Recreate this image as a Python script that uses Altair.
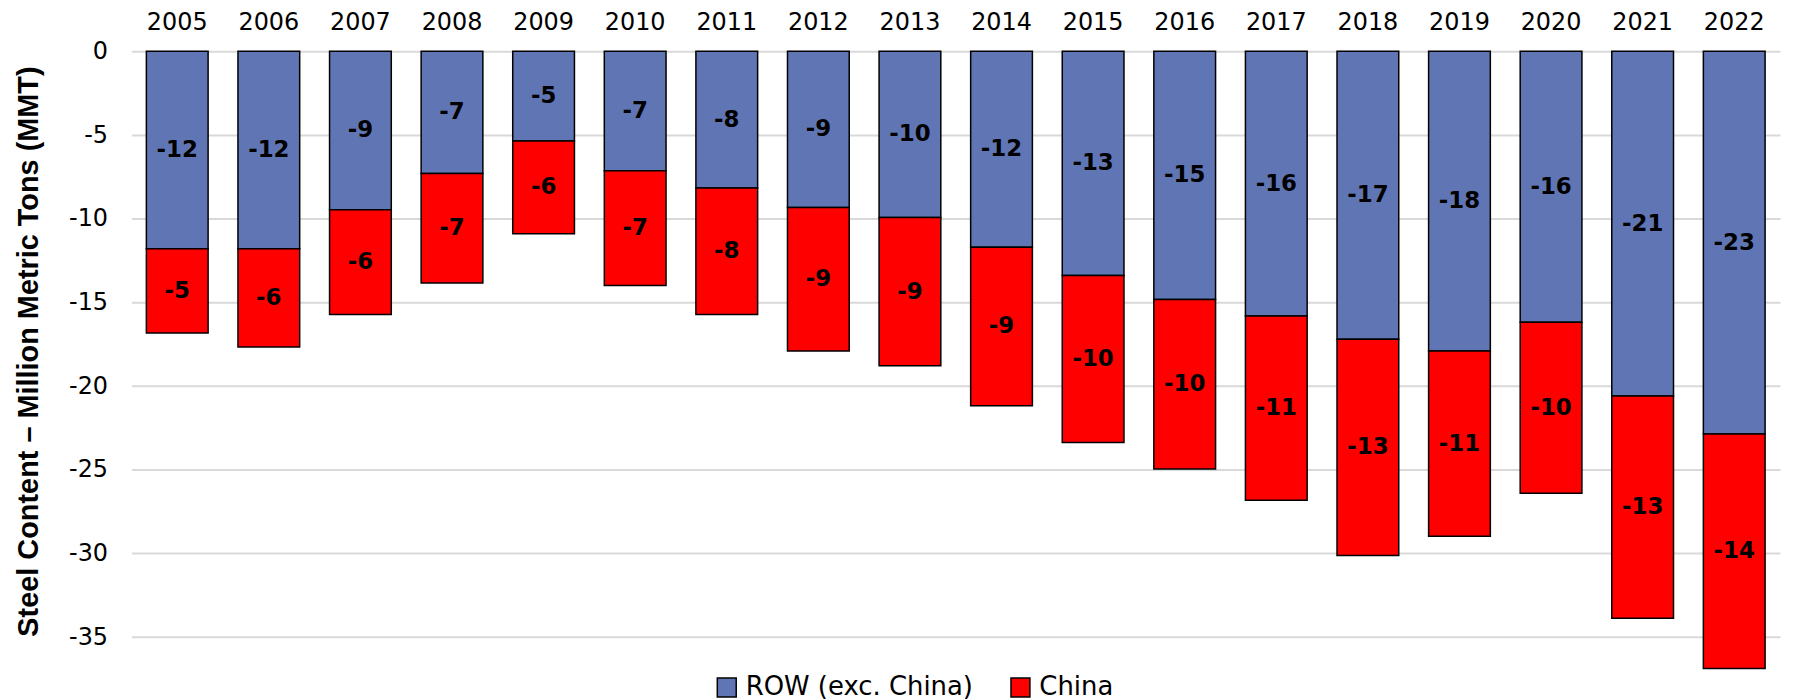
import altair as alt
import pandas as pd

years = ["2005", "2006", "2007", "2008", "2009", "2010", "2011", "2012", "2013",
         "2014", "2015", "2016", "2017", "2018", "2019", "2020", "2021", "2022"]
row_vals = [-11.8, -11.8, -9.46, -7.3, -5.36, -7.14, -8.17, -9.33, -9.92,
            -11.71, -13.39, -14.82, -15.81, -17.2, -17.9, -16.18, -20.6, -22.86]
china_vals = [-5.03, -5.86, -6.27, -6.54, -5.54, -6.85, -7.56, -8.57, -8.87,
              -9.46, -9.98, -10.14, -11.01, -12.92, -11.07, -10.22, -13.27, -14.01]
series_names = ["ROW (exc. China)", "China"]
series_colors = ["#6076B4", "#FF0000"]
y_ticks = [0, -5, -10, -15, -20, -25, -30, -35]

rows = []
for i, y in enumerate(years):
    rows.append({"year": y, "series": series_names[0], "value": row_vals[i], "order": 0})
    rows.append({"year": y, "series": series_names[1], "value": china_vals[i], "order": 1})
df = pd.DataFrame(rows)

base = alt.Chart(df).transform_stack(
    stack="value", groupby=["year"], as_=["y1", "y2"],
    sort=[alt.SortField("order", order="ascending")], offset="zero"
).transform_calculate(
    mid="(datum.y1 + datum.y2) / 2",
    lbl="'' + round(datum.value)"
)

x_enc = alt.X("year:N", sort=years, title=None,
              scale=alt.Scale(paddingInner=0.326, paddingOuter=0.163),
              axis=alt.Axis(orient="top", labelAngle=0, ticks=False, tickSize=0, domain=False,
                            labelPadding=17, labelFont="DejaVu Sans", labelFontSize=24,
                            labelColor="black", grid=False))

bars = base.mark_bar(stroke="black", strokeWidth=1.5).encode(
    x=x_enc,
    y=alt.Y("y1:Q", title="Steel Content \u2013 Million Metric Tons (MMT)",
            scale=alt.Scale(domain=[-37, 0], nice=False, zero=False),
            axis=alt.Axis(values=y_ticks, labelExpr="'' + datum.value", ticks=False, domain=False,
                          grid=True, gridColor="#D9D9D9", gridWidth=2,
                          labelPadding=24, labelFont="DejaVu Sans", labelFontSize=24, labelColor="black",
                          titleFont="Liberation Sans", titleFontSize=29, titleFontWeight="bold",
                          titleColor="black", titleX=-94, titleY=301, titleAngle=270,
                          titleAlign="center", titleBaseline="alphabetic")),
    y2="y2:Q",
    color=alt.Color("series:N", scale=alt.Scale(domain=series_names, range=series_colors),
                    sort=series_names,
                    legend=alt.Legend(title=None, orient="none", legendX=585, legendY=626,
                                      direction="horizontal", symbolType="square", symbolSize=361,
                                      symbolStrokeColor="black", symbolStrokeWidth=1.5,
                                      labelFont="DejaVu Sans", labelFontSize=26, labelColor="black",
                                      labelLimit=0, labelOffset=6, columnPadding=34)),
    order=alt.Order("order:Q")
)

labels = base.mark_text(font="DejaVu Sans", fontWeight="bold", fontSize=23, color="black",
                        align="center", baseline="middle").encode(
    x=alt.X("year:N", sort=years),
    y=alt.Y("mid:Q"),
    text="lbl:N"
)

chart = alt.layer(bars, labels).properties(
    width=1656, height=622,
    autosize="none",
    padding={"left": 124, "top": 42, "right": 5, "bottom": 30},
    background="white"
).configure_view(stroke=None)

chart.save("out.html", embed_options={"renderer": "svg", "actions": False})
